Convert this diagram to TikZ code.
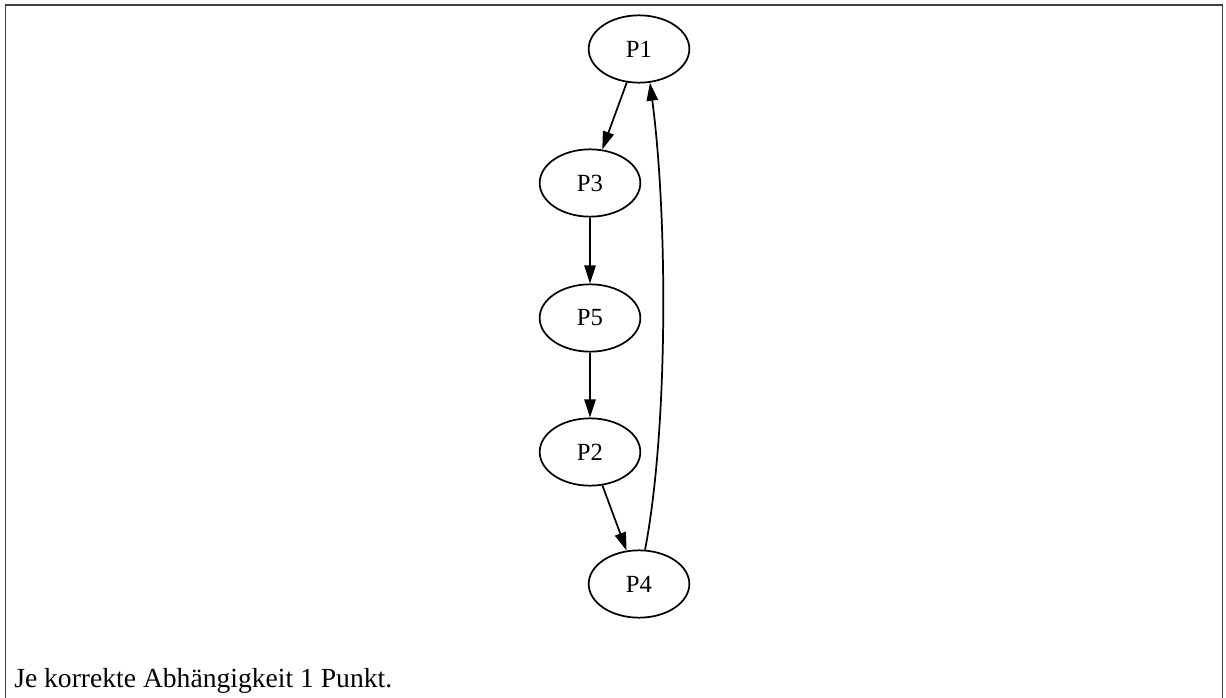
\documentclass[tikz,border=0pt]{standalone}
\usepackage{fontspec}
\setmainfont{Liberation Serif}
\usetikzlibrary{arrows.meta,shapes.geometric}
\begin{document}
\begin{tikzpicture}[x=0.75pt,y=-0.75pt,
  proc/.style={draw,ellipse,line width=1.3pt,minimum width=75.5pt,minimum height=50.5pt,inner sep=0pt,font=\fontsize{18.5}{20}\selectfont},
  arr/.style={line width=1.3pt,-{Triangle[length=13.5pt,width=8.5pt]}},
  frame/.style={line width=1.2pt,draw=black!75}]
\useasboundingbox (0,0) rectangle (1226,698);
\draw[frame] (5.5,698) -- (5.5,5) -- (1222.5,5) -- (1222.5,698);
\node[proc] (P1) at (639,49) {P1};
\node[proc] (P3) at (590,183) {P3};
\node[proc] (P5) at (590,318) {P5};
\node[proc] (P2) at (590,452) {P2};
\node[proc] (P4) at (639,584) {P4};
\draw[arr] (P1) -- (P3);
\draw[arr] (P3) -- (P5);
\draw[arr] (P5) -- (P2);
\draw[arr] (P2) -- (P4);
\draw[arr] (P4.80) .. controls (668,430) and (668,220) .. (P1.-72);
\node[anchor=base west,inner sep=0pt,font=\fontsize{20.7}{22}\selectfont] (cap) at (14,687) {Je korrekte Abhängigkeit 1 Punkt.};
\end{tikzpicture}
\end{document}
